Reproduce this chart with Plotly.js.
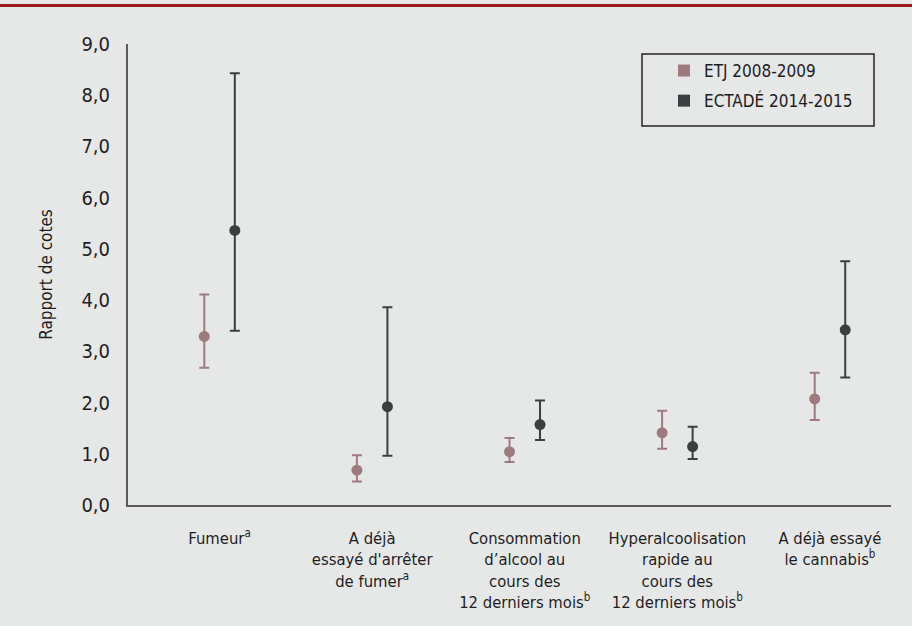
<!DOCTYPE html>
<html>
<head>
<meta charset="utf-8">
<script src="https://cdn.plot.ly/plotly-3.0.1.min.js"></script>
<style>
  html, body { margin: 0; padding: 0; background: #e6e8e7; }
  #chart { width: 912px; height: 626px; }
</style>
</head>
<body>
<div id="chart"></div>
<script>
const categories = [
  "Fumeur<sup>a</sup>",
  "A déjà<br>essayé d'arrêter<br>de fumer<sup>a</sup>",
  "Consommation<br>d’alcool au<br>cours des<br>12 derniers mois<sup>b</sup>",
  "Hyperalcoolisation<br>rapide au<br>cours des<br>12 derniers mois<sup>b</sup>",
  "A déjà essayé<br>le cannabis<sup>b</sup>"
];
const etjName = "ETJ 2008-2009";
const etjOR   = [3.29, 0.68, 1.04, 1.41, 2.07];
const etjLow  = [2.68, 0.46, 0.84, 1.10, 1.66];
const etjHigh = [4.11, 0.97, 1.31, 1.84, 2.58];

const ectName = "ECTADÉ 2014-2015";
const ectOR   = [5.36, 1.92, 1.57, 1.14, 3.42];
const ectLow  = [3.40, 0.96, 1.27, 0.90, 2.49];
const ectHigh = [8.43, 3.86, 2.04, 1.53, 4.76];

const yTicks = [0, 1, 2, 3, 4, 5, 6, 7, 8, 9];

const idx = categories.map((c, i) => i);
const etjColor = "#9d7a7e";
const ectColor = "#3b3f41";
const FONT = "DejaVu Sans Condensed";

function trace(name, or, lo, hi, shift, color) {
  return {
    type: "scatter", mode: "markers", name: name,
    x: idx.map(i => i + shift), y: or,
    marker: { color: color, size: 11, symbol: "circle" },
    error_y: {
      type: "data", symmetric: false,
      array: hi.map((h, i) => h - or[i]),
      arrayminus: lo.map((l, i) => or[i] - l),
      color: color, thickness: 2, width: 5
    },
    showlegend: false, hoverinfo: "skip"
  };
}
function legendTrace(name, color, grp) {
  return {
    type: "scatter", mode: "markers", name: name, legendgroup: grp,
    x: [null], y: [null],
    marker: { color: color, size: 15, symbol: "square" }
  };
}

const data = [
  trace(etjName, etjOR, etjLow, etjHigh, 0, etjColor),
  trace(ectName, ectOR, ectLow, ectHigh, 0.2, ectColor),
  legendTrace(etjName, etjColor, "g1"),
  legendTrace(ectName, ectColor, "g2")
];

const L = 128, R = 21, T = 44, B = 121;
const W = 912 - L - R, H = 626 - T - B;
const px = x => (x - L) / W;
const py = y => (626 - B - y) / H;

const layout = {
  width: 912, height: 626,
  paper_bgcolor: "#e6e8e7", plot_bgcolor: "#e6e8e7",
  margin: { l: L, r: R, t: T, b: B },
  font: { family: FONT, color: "#1e1e1e" },
  xaxis: {
    range: [-0.5, 4.5], tickmode: "array",
    tickvals: idx.map(i => i + 0.1), ticktext: categories,
    showgrid: false, zeroline: false,
    showline: true, linecolor: "#5a5a5a", linewidth: 2,
    ticks: "", ticklabelstandoff: 17,
    tickfont: { size: 16.5, color: "#1e1e1e", family: FONT }
  },
  yaxis: {
    range: [0, 9], tickmode: "array",
    tickvals: yTicks, ticktext: yTicks.map(v => v.toFixed(1).replace(".", ",")),
    showgrid: false, zeroline: false,
    showline: true, linecolor: "#5a5a5a", linewidth: 2,
    ticks: "", ticklabelstandoff: 12,
    tickfont: { size: 20, family: FONT, color: "#1e1e1e" },
    title: { text: "Rapport de cotes", font: { size: 17, family: FONT, color: "#1e1e1e" }, standoff: 24 }
  },
  legend: {
    x: px(664), y: py(53), xanchor: "left", yanchor: "top",
    bgcolor: "rgba(0,0,0,0)", borderwidth: 0,
    font: { size: 17, color: "#1e1e1e", family: FONT },
    itemsizing: "constant", tracegroupgap: 5, traceorder: "grouped"
  },
  shapes: [
    { type: "rect", xref: "paper", yref: "paper",
      x0: px(0), x1: px(912), y0: py(7), y1: py(4),
      fillcolor: "#9b1c1c", line: { width: 0 } },
    { type: "rect", xref: "paper", yref: "paper",
      x0: px(642), x1: px(874), y0: py(126), y1: py(54),
      fillcolor: "rgba(0,0,0,0)", line: { color: "#222", width: 1.5 } }
  ],
  showlegend: true
};

Plotly.newPlot("chart", data, layout, { displayModeBar: false, staticPlot: true });
</script>
</body>
</html>
